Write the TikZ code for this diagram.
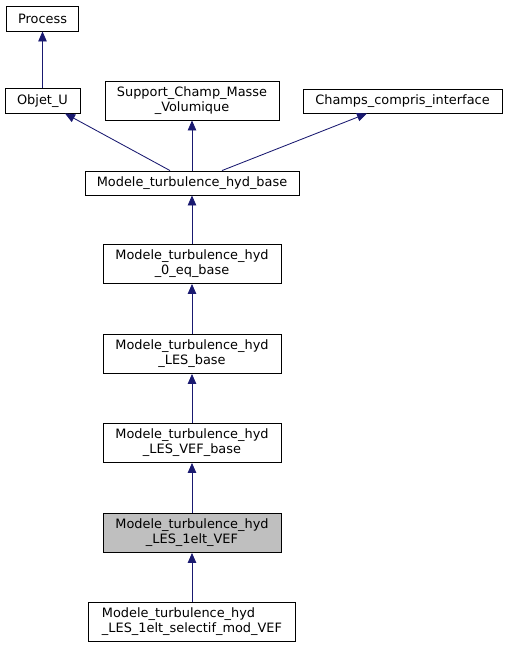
\documentclass[tikz,border=0pt]{standalone}
\usepackage{fontspec}
\setmainfont{DejaVu Sans}
\usetikzlibrary{arrows.meta}
\definecolor{edgeblue}{RGB}{25,25,112}
\definecolor{selgray}{RGB}{191,191,191}
\tikzset{
  cls/.style={draw=black, line width=0.9pt, fill=white, inner sep=0pt, align=center,
    font=\fontsize{12.9}{15}\selectfont},
  edge/.style={draw=edgeblue, line width=0.85pt, {Triangle[length=10pt,width=8.5pt]}-},
}
\begin{document}
\begin{tikzpicture}[x=1pt,y=-1pt]
\useasboundingbox (0,0) rectangle (507,648);
\node[cls, minimum width=72, minimum height=25] (process) at (42.5,18.5) {Process};
\node[cls, minimum width=75, minimum height=24.5] (objet) at (42.5,100.75) {Objet\_U};
\node[cls, minimum width=174, minimum height=39] (support) at (192,100.5) {Support\_Champ\_Masse\\\_Volumique};
\node[cls, minimum width=199, minimum height=24] (champs) at (402.5,101) {Champs\_compris\_interface};
\node[cls, minimum width=214, minimum height=24] (base) at (192,183) {Modele\_turbulence\_hyd\_base};
\node[cls, minimum width=178, minimum height=39] (zeroeq) at (192,264) {Modele\_turbulence\_hyd\\\_0\_eq\_base};
\node[cls, minimum width=178, minimum height=39] (les) at (192,354) {Modele\_turbulence\_hyd\\\_LES\_base};
\node[cls, minimum width=178, minimum height=39] (lesvef) at (192,443) {Modele\_turbulence\_hyd\\\_LES\_VEF\_base};
\node[cls, fill=selgray, minimum width=178, minimum height=39] (oneelt) at (192,533) {Modele\_turbulence\_hyd\\\_LES\_1elt\_VEF};
\node[cls, align=left, minimum width=207, minimum height=39] (selectif) at (192,622) {Modele\_turbulence\_hyd\\\_LES\_1elt\_selectif\_mod\_VEF};

\draw[edge] (process.south) -- (objet.north);
\draw[edge] ([xshift=22.5pt]objet.south) -- ([xshift=-22pt]base.north);
\draw[edge] (support.south) -- (base.north);
\draw[edge] ([xshift=-35.5pt]champs.south) -- ([xshift=30pt]base.north);
\draw[edge] (base.south) -- (zeroeq.north);
\draw[edge] (zeroeq.south) -- (les.north);
\draw[edge] (les.south) -- (lesvef.north);
\draw[edge] (lesvef.south) -- (oneelt.north);
\draw[edge] (oneelt.south) -- (selectif.north);
\end{tikzpicture}
\end{document}
